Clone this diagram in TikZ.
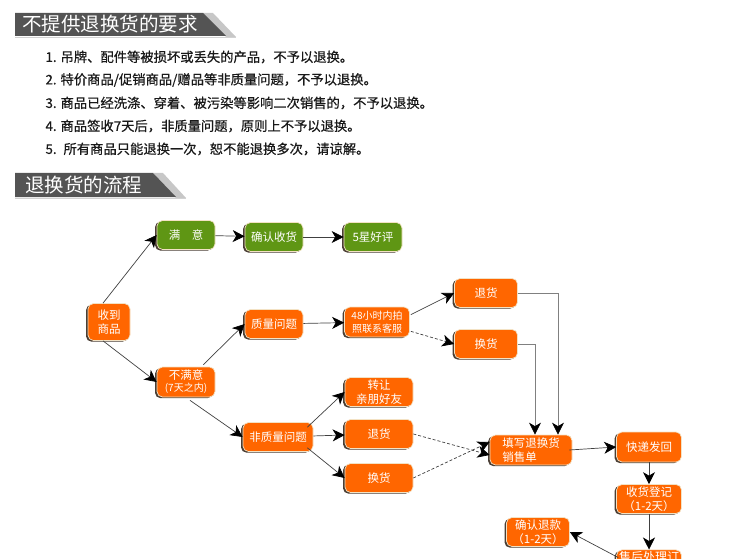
\documentclass[tikz,border=0pt]{standalone}
\usepackage{fontspec}
\newfontfamily\cjk{Noto Sans CJK SC}
\newfontfamily\cjkheavy[FakeBold=0.6]{Noto Sans CJK SC}
\usetikzlibrary{arrows.meta,shadows}
\definecolor{flowor}{HTML}{FF6600}
\definecolor{flowgr}{HTML}{5F9614}
\definecolor{bargray}{HTML}{545454}
\definecolor{cream}{HTML}{F3E2C4}
\definecolor{edgebrown}{HTML}{4A3E34}
\tikzset{
  box/.style={rounded corners=5.5pt, fill=flowor, draw=cream, line width=0.7pt, text=white,
    align=center, inner sep=0pt, minimum width=58pt, minimum height=29pt,
    font=\cjk\fontsize{11.5}{14}\selectfont,
    drop shadow={shadow xshift=-2pt, shadow yshift=-1.2pt, fill=edgebrown, opacity=1}},
  okbox/.style={box, fill=flowgr},
  link/.style={draw=black!75, line width=0.7pt,
    -{Stealth[length=12pt,width=12pt,inset=3.5pt,color=black]}},
  weak/.style={link, densely dashed},
  elbow/.style={link, draw=black!50},
  rule/.style={anchor=west, text=black!90, font=\cjkheavy\fontsize{13.3}{15}\selectfont},
  bartext/.style={anchor=west, text=white, inner sep=0pt, font=\cjk\fontsize{19.5}{21}\selectfont}
}
\begin{document}
\begin{tikzpicture}[x=1pt,y=-1pt]
\useasboundingbox (0,0) rectangle (750,559);

\fill[black!22] (203,13) -- (213,13) -- (236,37) -- (226,37) -- cycle;
\fill[bargray] (15,13) -- (203,13) -- (226,36) -- (15,36) -- cycle;
\draw[black!18] (15,37) -- (236,37);
\node[bartext] (head1) at (22,24.5) {不提供退换货的要求};

\node[rule] (r1) at (42,57) {1. 吊牌、配件等被损坏或丢失的产品，不予以退换。};
\node[rule] (r2) at (42,80) {2. 特价商品/促销商品/赠品等非质量问题，不予以退换。};
\node[rule] (r3) at (42,103) {3. 商品已经洗涤、穿着、被污染等影响二次销售的，不予以退换。};
\node[rule] (r4) at (42,126) {4. 商品签收7天后，非质量问题，原则上不予以退换。};
\node[rule] (r5) at (42,149) {5. \ 所有商品只能退换一次，恕不能退换多次，请谅解。};

\fill[black!22] (153,173) -- (163,173) -- (186,198) -- (176,198) -- cycle;
\fill[bargray] (15,173) -- (153,173) -- (176,197) -- (15,197) -- cycle;
\draw[black!18] (15,198) -- (186,198);
\node[bartext] (head2) at (25,185) {退换货的流程};

\node[box, minimum width=42pt, minimum height=37pt] (got) at (109,322) {收到\\商品};
\node[okbox] (happy) at (186,235) {满\quad 意};
\node[okbox] (confirm) at (274,237) {确认收货};
\node[okbox] (star) at (373,237) {5星好评};
\node[box, minimum height=30pt] (unhappy) at (186,382) {不满意\\[-2pt]{\fontsize{10}{11}\selectfont (7天之内)}};
\node[box] (quality) at (274,324) {质量问题};
\node[box, minimum width=65pt, minimum height=30pt, font=\cjk\fontsize{10}{13}\selectfont] (photo) at (377,322) {48小时内拍\\照联系客服};
\node[box, minimum width=63pt] (ret1) at (486,293) {退货};
\node[box, minimum width=63pt] (swap1) at (486,344) {换货};
\node[box, minimum width=70pt] (nonq) at (278,437) {非质量问题};
\node[box, minimum width=68pt] (gift) at (379,392) {转让\\亲朋好友};
\node[box, minimum width=68pt] (ret2) at (379,434) {退货};
\node[box, minimum width=68pt] (swap2) at (379,478) {换货};
\node[box, minimum width=82pt, minimum height=30pt, align=left] (form) at (531,450) {填写退换货\\销售单};
\node[box, minimum width=65pt, minimum height=30pt] (ship) at (649,447) {快递发回};
\node[box, minimum width=65pt] (recv) at (649,499) {收货登记\\（1-2天）};
\node[box, minimum width=63pt] (refund) at (538,532) {确认退款\\（1-2天）};
\node[box, anchor=north, minimum width=65pt, minimum height=22pt, inner ysep=1.5pt,
  text depth=14pt, font=\cjk\fontsize{12}{14}\selectfont] (after) at (649,549.5) {售后处理订};

\draw[link] (got.north) ++(-6,0) -- (happy.west);
\draw[link] (got.south) ++(-6,0) -- (unhappy.west);
\draw[link] (happy) -- (confirm);
\draw[link] (confirm) -- (star);
\draw[link] (unhappy.north east) ++(-12,-2) -- (quality.west);
\draw[link] (unhappy.south) ++(4,3) -- (nonq.west);
\draw[link] (quality) -- (photo);
\draw[link] (photo.north east) ++(1,8) -- (ret1.west);
\draw[weak] (photo.south east) ++(1,-6) -- (swap1.west);
\draw[link] (nonq.north east) ++(-6,5) -- (gift.west);
\draw[link] (nonq) -- (ret2);
\draw[link] (nonq.south east) ++(-6,-4) -- (swap2.west);
\draw[weak] (ret2.east) -- ([yshift=-5pt]form.west);
\draw[weak] (swap2.east) -- ([yshift=8pt]form.west);
\draw[elbow] (ret1.east) -| ([xshift=27pt]form.north);
\draw[elbow] (swap1.east) -| ([xshift=4pt]form.north);
\draw[link] ([xshift=-3pt]form.east) -- (ship.west);
\draw[link] (ship) -- (recv);
\draw[link] (recv) -- (after);
\draw[link] (after.north west) ++(2,8) -- (refund.east);
\end{tikzpicture}
\end{document}
